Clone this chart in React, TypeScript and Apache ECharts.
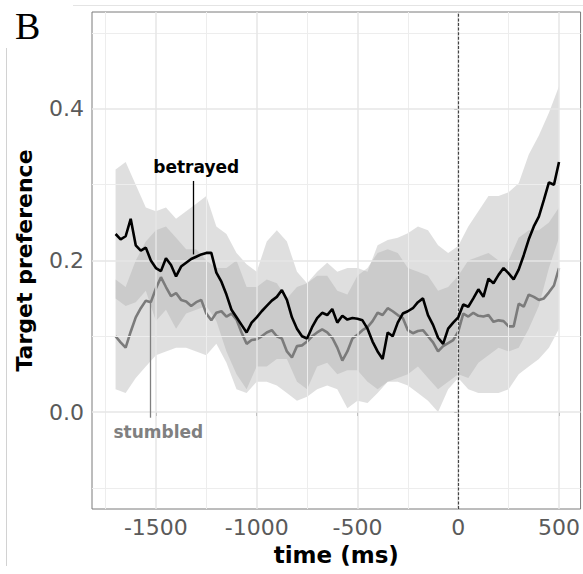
import { useEffect, useRef } from 'react';
import * as echarts from 'echarts';

// time grid of the mean lines (ms)
const lineStart = -1700;
const lineStep = 25;
const betrayed = [
  0.235, 0.228, 0.232, 0.255, 0.22, 0.213, 0.217, 0.2, 0.19, 0.186,
  0.203, 0.194, 0.179, 0.192, 0.197, 0.202, 0.205, 0.208, 0.21, 0.21,
  0.184, 0.172, 0.155, 0.135, 0.125, 0.115, 0.105, 0.118, 0.125, 0.133,
  0.14, 0.147, 0.152, 0.161, 0.148, 0.125, 0.11, 0.1, 0.097, 0.112,
  0.124, 0.131, 0.128, 0.136, 0.118, 0.127, 0.122, 0.124, 0.123, 0.121,
  0.11, 0.093, 0.08, 0.07, 0.105, 0.1, 0.118, 0.13, 0.133, 0.137,
  0.145, 0.15, 0.128, 0.115, 0.098, 0.09, 0.11, 0.118, 0.125, 0.142,
  0.139, 0.15, 0.162, 0.152, 0.176, 0.17, 0.181, 0.19, 0.183, 0.175,
  0.188, 0.207, 0.228, 0.245, 0.258, 0.28, 0.303, 0.3, 0.33,
];
const stumbled = [
  0.1, 0.092, 0.085, 0.106, 0.125, 0.137, 0.147, 0.145, 0.163, 0.178,
  0.165, 0.153, 0.157, 0.148, 0.146, 0.14, 0.145, 0.148, 0.13, 0.121,
  0.131, 0.133, 0.126, 0.13, 0.122, 0.105, 0.09, 0.095, 0.096, 0.1,
  0.105, 0.108, 0.1, 0.097, 0.08, 0.072, 0.087, 0.088, 0.093, 0.1,
  0.105, 0.109, 0.105, 0.098, 0.085, 0.068, 0.08, 0.097, 0.102, 0.108,
  0.112, 0.12, 0.131, 0.128, 0.137, 0.133, 0.128, 0.124, 0.108, 0.104,
  0.107, 0.108, 0.1, 0.092, 0.08, 0.087, 0.091, 0.095, 0.106, 0.13,
  0.126, 0.131, 0.127, 0.126, 0.128, 0.119, 0.121, 0.12, 0.113, 0.113,
  0.143, 0.139, 0.155, 0.152, 0.148, 0.15, 0.158, 0.167, 0.19,
];

// time grid of the confidence ribbons (ms)
const ribbonStart = -1700;
const ribbonStep = 50;
const betrayedUpper = [
  0.32, 0.33, 0.3, 0.27, 0.265, 0.27, 0.255, 0.265, 0.275, 0.285,
  0.245, 0.235, 0.21, 0.195, 0.185, 0.225, 0.24, 0.225, 0.185, 0.17,
  0.185, 0.197, 0.185, 0.19, 0.19, 0.185, 0.22, 0.227, 0.23, 0.236,
  0.245, 0.24, 0.22, 0.21, 0.219, 0.245, 0.265, 0.285, 0.285, 0.29,
  0.302, 0.34, 0.365, 0.395, 0.43,
];
const betrayedLower = [
  0.15, 0.14, 0.145, 0.16, 0.12, 0.135, 0.11, 0.13, 0.135, 0.14,
  0.12, 0.08, 0.05, 0.03, 0.06, 0.06, 0.07, 0.07, 0.04, 0.03,
  0.06, 0.065, 0.05, 0.055, 0.055, 0.04, 0.03, 0.04, 0.045, 0.05,
  0.06, 0.045, 0.03, 0.04, 0.05, 0.045, 0.065, 0.075, 0.085, 0.08,
  0.085, 0.11, 0.14, 0.19, 0.23,
];
const stumbledUpper = [
  0.175, 0.165, 0.2, 0.225, 0.24, 0.245, 0.23, 0.215, 0.215, 0.2,
  0.19, 0.19, 0.2, 0.165, 0.165, 0.175, 0.17, 0.15, 0.165, 0.17,
  0.18, 0.18, 0.16, 0.155, 0.18, 0.19, 0.21, 0.215, 0.21, 0.19,
  0.185, 0.18, 0.16, 0.165, 0.18, 0.2, 0.205, 0.21, 0.2, 0.2,
  0.23, 0.24, 0.24, 0.25, 0.27,
];
const stumbledLower = [
  0.03, 0.025, 0.045, 0.06, 0.075, 0.08, 0.085, 0.085, 0.08, 0.075,
  0.09, 0.065, 0.03, 0.025, 0.04, 0.04, 0.035, 0.025, 0.015, 0.02,
  0.03, 0.035, 0.03, 0.005, 0.015, 0.012, 0.025, 0.04, 0.04, 0.035,
  0.025, 0.015, 0.0, 0.03, 0.045, 0.03, 0.025, 0.025, 0.025, 0.03,
  0.05, 0.06, 0.07, 0.085, 0.11,
];

// ticks and grid lines
const xTicks = [-1500, -1000, -500, 0, 500];
const xMinor = [-1750, -1250, -750, -250, 250];
const yTicks = [0, 0.2, 0.4];
const yMinor = [-0.1, 0.1, 0.3, 0.5];

const FONT = 'DejaVu Sans';

function toPairs(start: number, step: number, vals: number[]) {
  return vals.map((v, i) => [start + i * step, v]);
}

function ribbonSeries(name: string, upper: number[], lower: number[], fill: string) {
  return {
    type: 'custom',
    name,
    z: 2,
    silent: true,
    data: [[ribbonStart, upper[0]]],
    renderItem: (_params: any, api: any) => {
      const pts: number[][] = [];
      upper.forEach((v, i) => pts.push(api.coord([ribbonStart + i * ribbonStep, v])));
      for (let i = lower.length - 1; i >= 0; i--) {
        pts.push(api.coord([ribbonStart + i * ribbonStep, lower[i]]));
      }
      return { type: 'polygon', shape: { points: pts }, style: { fill } };
    },
  };
}

export default function App() {
  const ref = useRef<HTMLDivElement>(null);
  useEffect(() => {
    if (!ref.current) return;
    const chart = echarts.init(ref.current, undefined, { renderer: 'svg' });
    const gridLine = (color: string, width: number) => ({ color, width, type: 'solid' });
    chart.setOption({
      animation: false,
      backgroundColor: '#ffffff',
      textStyle: { fontFamily: FONT },
      grid: { left: 92, right: 0, top: 12, bottom: 65, show: true, borderColor: '#7a7a7a', borderWidth: 1 },
      xAxis: {
        type: 'value',
        min: -1817,
        max: 607,
        axisLine: { show: false },
        splitLine: { show: false },
        axisTick: { show: true, customValues: xTicks, length: 4, lineStyle: { color: '#555' } },
        axisLabel: {
          customValues: xTicks,
          fontSize: 22,
          color: '#5a5a5a',
          margin: 7,
          fontFamily: FONT,
          formatter: (v: number) => String(v),
        },
        name: 'time (ms)',
        nameLocation: 'middle',
        nameGap: 34,
        nameTextStyle: { fontSize: 23, fontWeight: 'bold', color: '#000', fontFamily: FONT },
      },
      yAxis: {
        type: 'value',
        min: -0.128,
        max: 0.528,
        axisLine: { show: false },
        splitLine: { show: false },
        axisTick: { show: true, customValues: yTicks, length: 4, lineStyle: { color: '#555' } },
        axisLabel: {
          customValues: yTicks,
          fontSize: 22,
          color: '#5a5a5a',
          margin: 8,
          fontFamily: FONT,
          formatter: (v: number) => v.toFixed(1),
        },
        name: 'Target preference',
        nameLocation: 'middle',
        nameGap: 57,
        nameTextStyle: { fontSize: 22, fontWeight: 'bold', color: '#000', fontFamily: FONT },
      },
      graphic: [
        { type: 'line', shape: { x1: 73, y1: 5.5, x2: 583, y2: 5.5 }, style: { stroke: '#e4e4e4', lineWidth: 1 }, silent: true },
        { type: 'line', shape: { x1: 6.5, y1: 48, x2: 6.5, y2: 566 }, style: { stroke: '#d2d2d2', lineWidth: 1 }, silent: true },
        { type: 'text', left: 15, top: 7, style: { text: 'B', fontSize: 38, fontFamily: 'Liberation Serif', fill: '#000' }, silent: true },
      ],
      series: [
        {
          type: 'line',
          name: 'grid',
          z: 1,
          silent: true,
          data: [[0, 0]],
          showSymbol: false,
          lineStyle: { opacity: 0 },
          markLine: {
            silent: true,
            symbol: 'none',
            label: { show: false },
            data: [
              ...xMinor.map((v) => ({ xAxis: v, lineStyle: gridLine('#ededed', 1) })),
              ...yMinor.map((v) => ({ yAxis: v, lineStyle: gridLine('#ededed', 1) })),
              ...xTicks.map((v) => ({ xAxis: v, lineStyle: gridLine('#e6e6e6', 1.5) })),
              ...yTicks.map((v) => ({ yAxis: v, lineStyle: gridLine('#e6e6e6', 1.5) })),
            ],
          },
        },
        ribbonSeries('betrayed CI', betrayedUpper, betrayedLower, 'rgba(170,170,170,0.38)'),
        ribbonSeries('stumbled CI', stumbledUpper, stumbledLower, 'rgba(170,170,170,0.38)'),
        {
          type: 'line',
          name: 'zero',
          z: 3,
          silent: true,
          data: [[0, 0]],
          showSymbol: false,
          lineStyle: { opacity: 0 },
          markLine: {
            silent: true,
            symbol: 'none',
            label: { show: false },
            data: [{ xAxis: 0 }],
            lineStyle: { color: '#444', width: 1.2, type: [3, 1.6] },
          },
        },
        {
          type: 'line',
          name: 'stumbled',
          z: 4,
          data: toPairs(lineStart, lineStep, stumbled),
          showSymbol: false,
          lineStyle: { color: '#7b7b7b', width: 2.6 },
        },
        {
          type: 'line',
          name: 'betrayed',
          z: 5,
          data: toPairs(lineStart, lineStep, betrayed),
          showSymbol: false,
          lineStyle: { color: '#000000', width: 2.6 },
        },
        {
          type: 'scatter',
          name: 'labels',
          z: 6,
          silent: true,
          symbolSize: 0,
          itemStyle: { opacity: 1 },
          data: [
            { value: [-1300, 0.323], label: { formatter: 'betrayed', color: '#000000' } },
            { value: [-1488, -0.027], label: { formatter: 'stumbled', color: '#808080' } },
          ],
          label: {
            show: true,
            position: 'inside',
            fontSize: 17,
            fontWeight: 'bold',
            fontFamily: FONT,
            opacity: 1,
            textBorderWidth: 0,
            textBorderColor: 'transparent',
          },
          markLine: {
            silent: true,
            symbol: 'none',
            label: { show: false },
            data: [
              [{ coord: [-1317, 0.305], lineStyle: { color: '#000', width: 1.3, type: 'solid' } }, { coord: [-1317, 0.208] }],
              [{ coord: [-1527, 0.144], lineStyle: { color: '#7f7f7f', width: 1.3, type: 'solid' } }, { coord: [-1527, -0.0075] }],
            ],
          },
        },
      ],
    });
    return () => chart.dispose();
  }, []);
  return <div ref={ref} style={{ position: 'fixed', left: 0, top: 0, width: 583, height: 574 }} />;
}
